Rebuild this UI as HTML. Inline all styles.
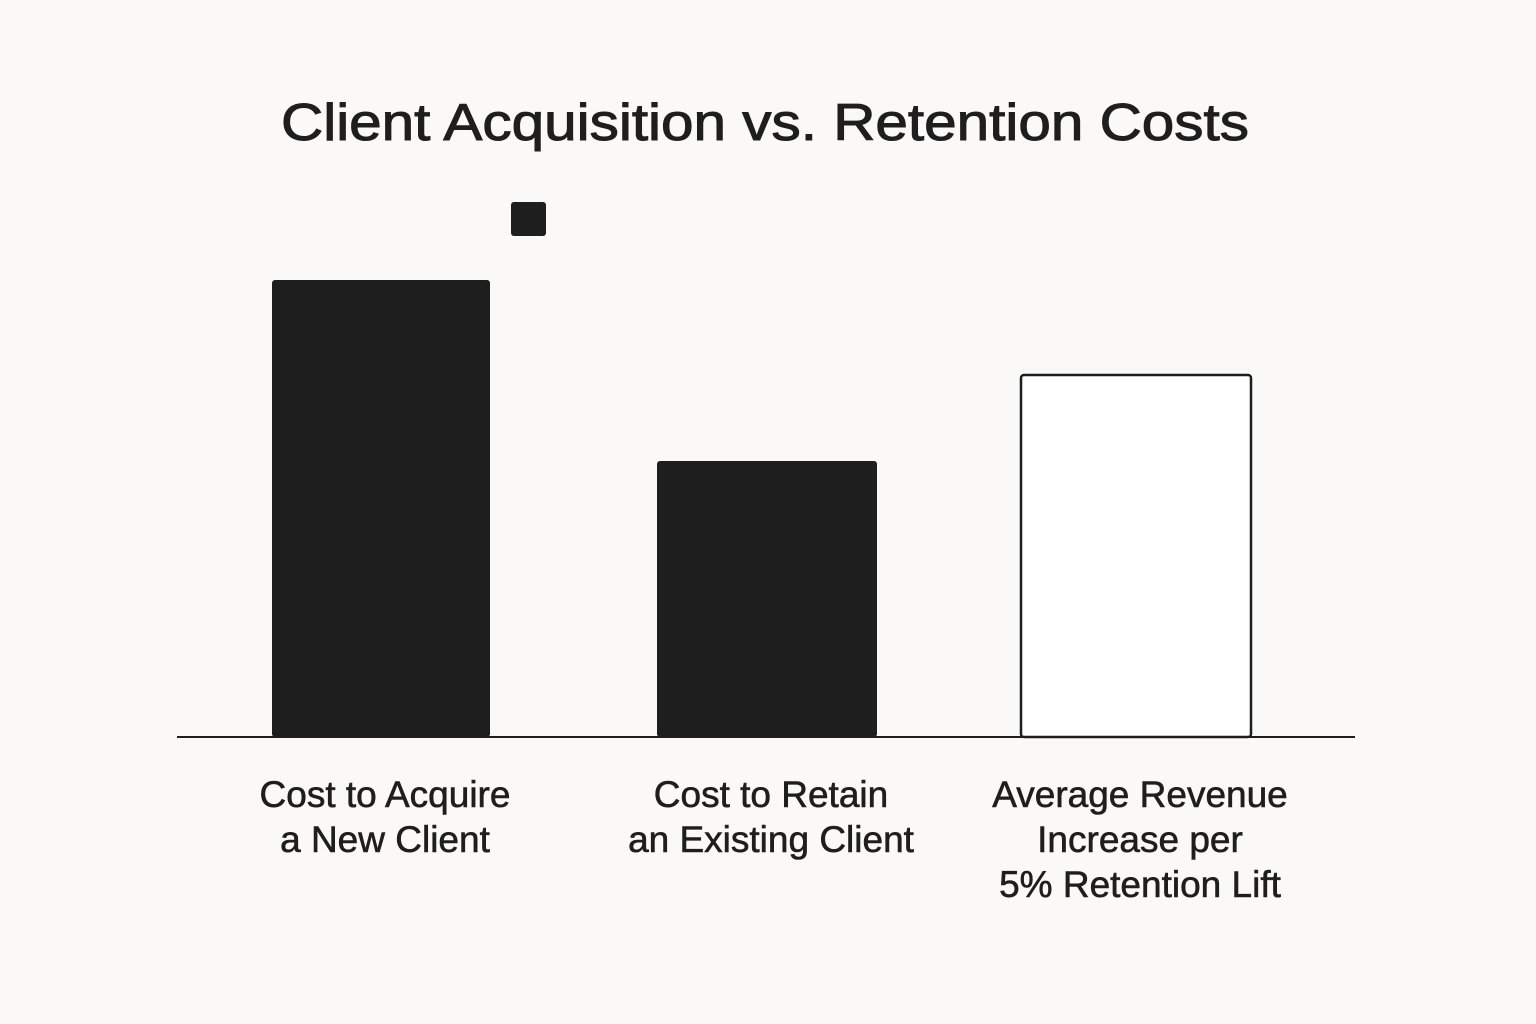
<!DOCTYPE html>
<html><head><meta charset="utf-8"><style>
html,body{margin:0;padding:0;background:#faf9f7;}
svg{display:block;}
text{font-family:"Liberation Sans","DejaVu Sans",sans-serif;fill:#1e1e1e;}
</style></head><body>
<svg width="1536" height="1024" viewBox="0 0 1536 1024">
<rect width="1536" height="1024" fill="#faf9f7"/>
<text x="765" y="140" text-anchor="middle" font-size="52" stroke="#1e1e1e" stroke-width="1" textLength="968" lengthAdjust="spacingAndGlyphs">Client Acquisition vs. Retention Costs</text>
<rect x="511" y="202" width="35" height="34" rx="3" fill="#1e1e1e"/>
<g id="bars"></g>
<line x1="177" y1="737" x2="1355" y2="737" stroke="#1e1e1e" stroke-width="2"/>
<g id="labels"></g>
</svg>
<script>
const categories = [["Cost to Acquire","a New Client"],["Cost to Retain","an Existing Client"],["Average Revenue","Increase per","5% Retention Lift"]];
const values = [5, 3.02, 3.96];
const fills = ["#1e1e1e","#1e1e1e","#ffffff"];
const baseY = 737, pxPerUnit = 91.4;
const barX = [272, 657, 1020], barW = [218, 220, 232];
function y(v){ return baseY - v * pxPerUnit; }
const ns = "http://www.w3.org/2000/svg";
const gb = document.getElementById("bars"), gl = document.getElementById("labels");
values.forEach((v,i)=>{
  const r = document.createElementNS(ns,"rect");
  r.setAttribute("x", barX[i] + (fills[i]==="#ffffff"?1:0));
  r.setAttribute("y", y(v));
  r.setAttribute("width", barW[i] - (fills[i]==="#ffffff"?2:0));
  r.setAttribute("height", baseY - y(v));
  r.setAttribute("rx", 3);
  r.setAttribute("fill", fills[i]);
  if (fills[i]==="#ffffff"){ r.setAttribute("stroke","#1e1e1e"); r.setAttribute("stroke-width","2.5"); }
  
  
  gb.appendChild(r);
  const cx = barX[i] + barW[i]/2 + 4;
  categories[i].forEach((line,j)=>{
    const t = document.createElementNS(ns,"text");
    t.setAttribute("x", cx);
    t.setAttribute("y", 807 + j*45);
    t.setAttribute("text-anchor","middle");
    t.setAttribute("font-size","37");
    t.setAttribute("stroke","#1e1e1e");
    t.setAttribute("stroke-width","0.6");
    t.textContent = line;
    
    
    gl.appendChild(t);
  });
});
</script>
</body></html>
